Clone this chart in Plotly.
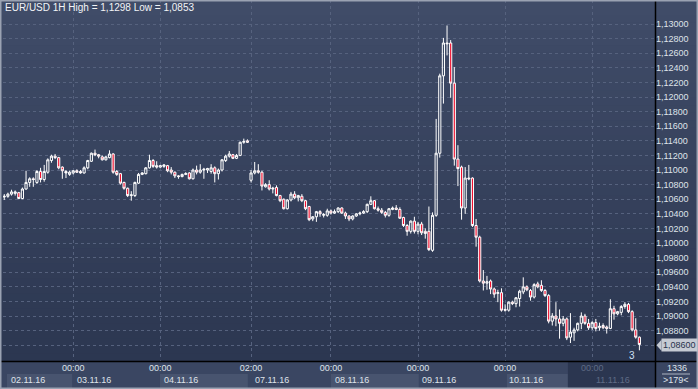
import plotly.graph_objects as go

# ---------------- data ----------------
title_text = "EUR/USD 1H High = 1,1298 Low = 1,0853"

open_ = [
    1.1063,1.1064,1.1067,1.1068,1.1069,1.1061,1.1074,1.1083,1.1088,1.1083,
    1.1098,1.1087,1.1097,1.1113,1.1119,1.1117,1.1104,1.1098,1.1094,1.1096,
    1.1099,1.1098,1.1096,1.1103,1.1112,1.1123,1.1121,1.1118,1.1114,1.1117,
    1.1122,1.1098,1.1095,1.1083,1.1075,1.1065,1.1065,1.1082,1.1094,1.1095,
    1.1103,1.1113,1.1106,1.1104,1.1105,1.1106,1.1100,1.1097,1.1092,1.1091,
    1.1094,1.1096,1.1088,1.1100,1.1097,1.1100,1.1100,1.1098,1.1103,1.1095,
    1.1100,1.1113,1.1119,1.1121,1.1116,1.1120,1.1138,1.1140,1.1086,1.1096,
    1.1099,1.1097,1.1077,1.1080,1.1074,1.1076,1.1065,1.1060,1.1047,1.1059,
    1.1067,1.1062,1.1064,1.1058,1.1050,1.1033,1.1036,1.1043,1.1038,1.1038,
    1.1044,1.1041,1.1043,1.1048,1.1041,1.1037,1.1033,1.1037,1.1040,1.1041,
    1.1043,1.1053,1.1058,1.1047,1.1045,1.1042,1.1038,1.1046,1.1048,1.1046,
    1.1035,1.1024,1.1016,1.1030,1.1016,1.1026,1.1016,1.1016,1.0990,1.1038,
    1.1123,1.1229,1.1274,1.1274,1.1219,1.1115,1.1104,1.1048,1.1089,1.1089,
    1.1024,1.1008,1.0948,1.0945,1.0948,1.0937,1.0931,1.0932,1.0909,1.0908,
    1.0919,1.0917,1.0924,1.0933,1.0940,1.0935,1.0926,1.0944,1.0942,1.0935,
    1.0928,1.0893,1.0900,1.0896,1.0890,1.0896,1.0871,1.0877,1.0881,1.0890,
    1.0900,1.0890,1.0884,1.0891,1.0884,1.0887,1.0885,1.0883,1.0910,1.0903,
    1.0905,1.0913,1.0916,1.0906,1.0881,1.0871,
]
high = [
    1.1067,1.1069,1.1073,1.1072,1.1070,1.1076,1.1099,1.1090,1.1090,1.1100,
    1.1103,1.1107,1.1116,1.1121,1.1122,1.1118,1.1105,1.1100,1.1099,1.1100,
    1.1101,1.1100,1.1105,1.1114,1.1124,1.1128,1.1122,1.1120,1.1119,1.1127,
    1.1123,1.1100,1.1096,1.1084,1.1076,1.1071,1.1084,1.1096,1.1097,1.1104,
    1.1121,1.1115,1.1112,1.1107,1.1108,1.1107,1.1104,1.1098,1.1093,1.1095,
    1.1097,1.1097,1.1102,1.1106,1.1108,1.1103,1.1103,1.1108,1.1105,1.1102,
    1.1115,1.1121,1.1126,1.1122,1.1122,1.1139,1.1143,1.1142,1.1100,1.1111,
    1.1108,1.1099,1.1082,1.1086,1.1077,1.1079,1.1066,1.1061,1.1060,1.1070,
    1.1071,1.1066,1.1067,1.1059,1.1051,1.1037,1.1044,1.1045,1.1041,1.1047,
    1.1046,1.1046,1.1049,1.1049,1.1043,1.1038,1.1038,1.1041,1.1043,1.1045,
    1.1054,1.1064,1.1059,1.1050,1.1048,1.1044,1.1048,1.1050,1.1052,1.1049,
    1.1036,1.1026,1.1031,1.1036,1.1029,1.1029,1.1020,1.1050,1.1042,1.1170,
    1.1232,1.1281,1.1298,1.1278,1.1241,1.1134,1.1106,1.1104,1.1107,1.1090,
    1.1033,1.1010,1.0963,1.0955,1.0950,1.0939,1.0936,1.0938,1.0916,1.0920,
    1.0921,1.0926,1.0936,1.0953,1.0942,1.0937,1.0945,1.0947,1.0949,1.0937,
    1.0930,1.0904,1.0919,1.0909,1.0900,1.0898,1.0904,1.0884,1.0891,1.0905,
    1.0903,1.0896,1.0893,1.0896,1.0891,1.0890,1.0887,1.0923,1.0914,1.0907,
    1.0915,1.0919,1.0918,1.0908,1.0897,1.0872,
]
low = [
    1.1059,1.1062,1.1065,1.1065,1.1060,1.1060,1.1073,1.1077,1.1077,1.1081,
    1.1083,1.1084,1.1095,1.1110,1.1115,1.1101,1.1088,1.1089,1.1092,1.1094,
    1.1096,1.1095,1.1095,1.1101,1.1111,1.1119,1.1116,1.1113,1.1113,1.1116,
    1.1095,1.1092,1.1080,1.1073,1.1063,1.1058,1.1063,1.1081,1.1093,1.1094,
    1.1102,1.1103,1.1102,1.1103,1.1103,1.1097,1.1094,1.1089,1.1088,1.1090,
    1.1093,1.1087,1.1087,1.1094,1.1095,1.1088,1.1096,1.1095,1.1083,1.1087,
    1.1098,1.1111,1.1117,1.1115,1.1115,1.1119,1.1136,1.1137,1.1083,1.1094,
    1.1095,1.1072,1.1076,1.1072,1.1068,1.1064,1.1056,1.1046,1.1046,1.1057,
    1.1060,1.1057,1.1056,1.1045,1.1030,1.1030,1.1029,1.1036,1.1035,1.1036,
    1.1039,1.1040,1.1041,1.1040,1.1033,1.1030,1.1031,1.1036,1.1038,1.1040,
    1.1041,1.1052,1.1046,1.1043,1.1040,1.1035,1.1036,1.1045,1.1045,1.1033,
    1.1022,1.1010,1.1013,1.1013,1.1012,1.1011,1.1006,1.0989,1.0988,1.1036,
    1.1117,1.1191,1.1257,1.1199,1.1106,1.1078,1.1032,1.1040,1.1086,1.1022,
    1.0995,1.0946,1.0935,1.0936,1.0930,1.0925,1.0919,1.0906,1.0906,1.0906,
    1.0915,1.0912,1.0913,1.0930,1.0934,1.0921,1.0924,1.0938,1.0933,1.0926,
    1.0890,1.0887,1.0886,1.0869,1.0886,1.0867,1.0863,1.0866,1.0879,1.0882,
    1.0888,1.0881,1.0881,1.0879,1.0880,1.0882,1.0876,1.0882,1.0895,1.0901,
    1.0901,1.0910,1.0904,1.0879,1.0869,1.0853,
]
close = [
    1.1064,1.1067,1.1070,1.1070,1.1061,1.1074,1.1083,1.1088,1.1087,1.1098,
    1.1087,1.1098,1.1114,1.1119,1.1117,1.1103,1.1099,1.1096,1.1097,1.1099,
    1.1097,1.1096,1.1103,1.1113,1.1123,1.1121,1.1119,1.1114,1.1118,1.1122,
    1.1097,1.1094,1.1082,1.1075,1.1065,1.1066,1.1083,1.1094,1.1096,1.1103,
    1.1113,1.1105,1.1104,1.1106,1.1107,1.1099,1.1097,1.1092,1.1091,1.1094,
    1.1095,1.1088,1.1100,1.1097,1.1100,1.1101,1.1102,1.1103,1.1095,1.1100,
    1.1114,1.1119,1.1122,1.1116,1.1120,1.1138,1.1139,1.1138,1.1096,1.1099,
    1.1097,1.1078,1.1080,1.1074,1.1075,1.1065,1.1058,1.1047,1.1059,1.1067,
    1.1062,1.1065,1.1058,1.1047,1.1032,1.1036,1.1043,1.1040,1.1039,1.1044,
    1.1041,1.1043,1.1048,1.1041,1.1037,1.1033,1.1037,1.1040,1.1041,1.1043,
    1.1053,1.1058,1.1047,1.1045,1.1042,1.1038,1.1047,1.1048,1.1046,1.1034,
    1.1024,1.1016,1.1030,1.1016,1.1026,1.1014,1.1013,1.0991,1.1038,1.1123,
    1.1229,1.1274,1.1273,1.1219,1.1115,1.1102,1.1048,1.1089,1.1088,1.1024,
    1.1008,1.0948,1.0945,1.0947,1.0937,1.0930,1.0932,1.0908,1.0908,1.0919,
    1.0917,1.0925,1.0934,1.0940,1.0936,1.0926,1.0943,1.0940,1.0935,1.0928,
    1.0893,1.0900,1.0896,1.0890,1.0896,1.0870,1.0878,1.0881,1.0890,1.0900,
    1.0890,1.0884,1.0891,1.0883,1.0886,1.0884,1.0883,1.0910,1.0903,1.0906,
    1.0913,1.0916,1.0906,1.0881,1.0871,1.0861,
]
bar_index = list(range(len(close)))

price_ticks = [1.086, 1.088, 1.090, 1.092, 1.094, 1.096, 1.098, 1.100, 1.102,
               1.104, 1.106, 1.108, 1.110, 1.112, 1.114, 1.116, 1.118, 1.120,
               1.122, 1.124, 1.126, 1.128, 1.130]
price_labels = ["1,08600", "1,08800", "1,09000", "1,09200", "1,09400", "1,09600",
                "1,09800", "1,10000", "1,10200", "1,10400", "1,10600", "1,10800",
                "1,11000", "1,11200", "1,11400", "1,11600", "1,11800", "1,12000",
                "1,12200", "1,12400", "1,12600", "1,12800", "1,13000"]

day_ticks = [19, 43, 68, 90, 114, 138, 162]
day_tick_labels = ["00:00", "00:00", "02:00", "00:00", "00:00", "00:00", "00:00"]
day_starts = [0, 19, 43, 68, 90, 114, 138, 162]
date_labels = ["02.11.16", "03.11.16", "04.11.16", "07.11.16",
               "08.11.16", "09.11.16", "10.11.16", "11.11.16"]
last_price_value = 1.086
last_price_label = "1,08600"
bar_count_label = "1336"
visible_bars_label = ">179<"
marker_label = "3"

# ---------------- styling ----------------
W, H = 698, 389
ML, MR, MT, MB = 3, 43, 0, 28
PW, PH = W - ML - MR, H - MT - MB
X_RANGE = [-0.35, 179.3]
Y_RANGE = [1.08384, 1.13329]
SHADE_FROM = 155.3
FONT = "Liberation Sans, Arial, sans-serif"
TXT = "#dfe3ea"
DIM = "#5f6b86"
GRID = "#56627e"


def pxx(p):
    return (p - ML) / PW


def pxy(p):
    return (PH + MT - p) / PH


shapes = []
# background gradient over plot + right axis panel
top_c, bot_c = (64, 76, 104), (44, 55, 81)
N = 48
for k in range(N):
    t = k / (N - 1)
    c = tuple(round(top_c[j] + (bot_c[j] - top_c[j]) * t) for j in range(3))
    y1 = 1 - k / N
    y0 = 1 - (k + 1) / N
    shapes.append(dict(type="rect", xref="paper", yref="paper",
                       x0=pxx(0), x1=pxx(W), y0=y0 - 0.002, y1=y1,
                       fillcolor="rgb(%d,%d,%d)" % c, line=dict(width=0),
                       layer="below"))

# date boxes in bottom panel (alternate days)
box_y0, box_y1 = pxy(388), pxy(374)
box_spans = [(0.75, 18.7), (42.9, 67.1), (90, 114.2), (138.5, SHADE_FROM)]
for a, b in box_spans:
    shapes.append(dict(type="rect", xref="x", yref="paper", x0=a, x1=b,
                       y0=box_y0, y1=box_y1, fillcolor="#48546f",
                       line=dict(width=0), layer="below"))
# dark region at the right of the time scale
shapes.append(dict(type="rect", xref="x", yref="paper", x0=SHADE_FROM, x1=X_RANGE[1],
                   y0=pxy(389), y1=pxy(362), fillcolor="#2b3650",
                   line=dict(width=0), layer="below"))
# black separators
shapes.append(dict(type="line", xref="paper", yref="paper", x0=pxx(0), x1=pxx(W),
                   y0=pxy(361.5), y1=pxy(361.5), line=dict(color="#000000", width=1.5)))
shapes.append(dict(type="line", xref="paper", yref="paper", x0=pxx(655.5), x1=pxx(655.5),
                   y0=pxy(389), y1=pxy(0), line=dict(color="#000000", width=1.5)))
# separator under bar count
shapes.append(dict(type="line", xref="paper", yref="paper", x0=pxx(662), x1=pxx(690),
                   y0=pxy(374), y1=pxy(374), line=dict(color="#aab2c0", width=1)))
# current price marker arrow
shapes.append(dict(type="path", xref="paper", yref="y",
                   path="M %f,%f L %f,%f L %f,%f Z" % (
                       pxx(656.5), last_price_value,
                       pxx(661.5), last_price_value + 0.00075,
                       pxx(661.5), last_price_value - 0.00075),
                   fillcolor="#c5cad3", line=dict(width=0)))
# outer frame
shapes.append(dict(type="rect", xref="paper", yref="paper", x0=pxx(0.5), x1=pxx(W - 0.5),
                   y0=pxy(H - 0.5), y1=pxy(0.5), line=dict(color="#9aa2b2", width=2),
                   fillcolor="rgba(0,0,0,0)"))

annotations = []
annotations.append(dict(text=title_text, xref="paper", yref="paper", x=pxx(3), y=1,
                        xanchor="left", yanchor="top", yshift=0, showarrow=False,
                        font=dict(family=FONT, size=10, color="#f2f4f7")))
for i, (s, lab) in enumerate(zip(day_starts, date_labels)):
    col = DIM if s >= SHADE_FROM else TXT
    annotations.append(dict(text=lab, xref="x", yref="paper", x=max(s, 0.75), y=pxy(380),
                            xanchor="left", yanchor="middle", xshift=2,
                            showarrow=False, font=dict(family=FONT, size=9, color=col)))
annotations.append(dict(text=last_price_label, xref="paper", yref="y", x=pxx(661), y=last_price_value,
                        xanchor="left", yanchor="middle", showarrow=False, bgcolor="#c5cad3",
                        borderpad=1, font=dict(family=FONT, size=9, color="#27324b")))
annotations.append(dict(text=bar_count_label, xref="paper", yref="paper", x=pxx(677), y=pxy(368.5),
                        xanchor="center", yanchor="middle", showarrow=False,
                        font=dict(family=FONT, size=9, color=TXT)))
annotations.append(dict(text=visible_bars_label, xref="paper", yref="paper", x=pxx(676), y=pxy(380),
                        xanchor="center", yanchor="middle", showarrow=False,
                        font=dict(family=FONT, size=9, color=TXT)))
annotations.append(dict(text=marker_label, xref="x", yref="paper", x=bar_index[-1] - 2, y=pxy(355.5),
                        xanchor="center", yanchor="middle", showarrow=False,
                        font=dict(family=FONT, size=10, color="#cfe0f6")))

tick_text = [("<span style='color:%s'>%s</span>" % (DIM, t)) if v >= SHADE_FROM else t
             for v, t in zip(day_ticks, day_tick_labels)]
# the last-price box replaces the axis label at its level
price_tick_text = ["" if abs(v - last_price_value) < 1e-9 else t
                   for v, t in zip(price_ticks, price_labels)]

fig = go.Figure(go.Candlestick(
    x=bar_index, open=open_, high=high, low=low, close=close,
    increasing=dict(line=dict(color="#ffffff", width=1), fillcolor="rgba(0,0,0,0)"),
    decreasing=dict(line=dict(color="#ffffff", width=1), fillcolor="#f0102f"),
    whiskerwidth=0, hoverinfo="x+y", showlegend=False,
))

fig.update_layout(
    width=W, height=H, margin=dict(l=ML, r=MR, t=MT, b=MB, pad=0),
    paper_bgcolor="#3a4662", plot_bgcolor="rgba(0,0,0,0)",
    font=dict(family=FONT, size=9, color=TXT),
    shapes=shapes, annotations=annotations, boxgap=0.15,
    xaxis=dict(range=X_RANGE, tickvals=day_ticks, ticktext=tick_text, showgrid=True,
               gridcolor=GRID, griddash="3px,3px", gridwidth=1, zeroline=False,
               showline=False, ticks="", rangeslider=dict(visible=False),
               tickfont=dict(family=FONT, size=9, color=TXT), fixedrange=True),
    yaxis=dict(range=Y_RANGE, side="right", tickvals=price_ticks, ticktext=price_tick_text,
               showgrid=True, gridcolor=GRID, griddash="3px,3px", gridwidth=1,
               zeroline=False, showline=False, ticks="",
               tickfont=dict(family=FONT, size=9, color=TXT), fixedrange=True),
)

fig.write_html("out.html")
